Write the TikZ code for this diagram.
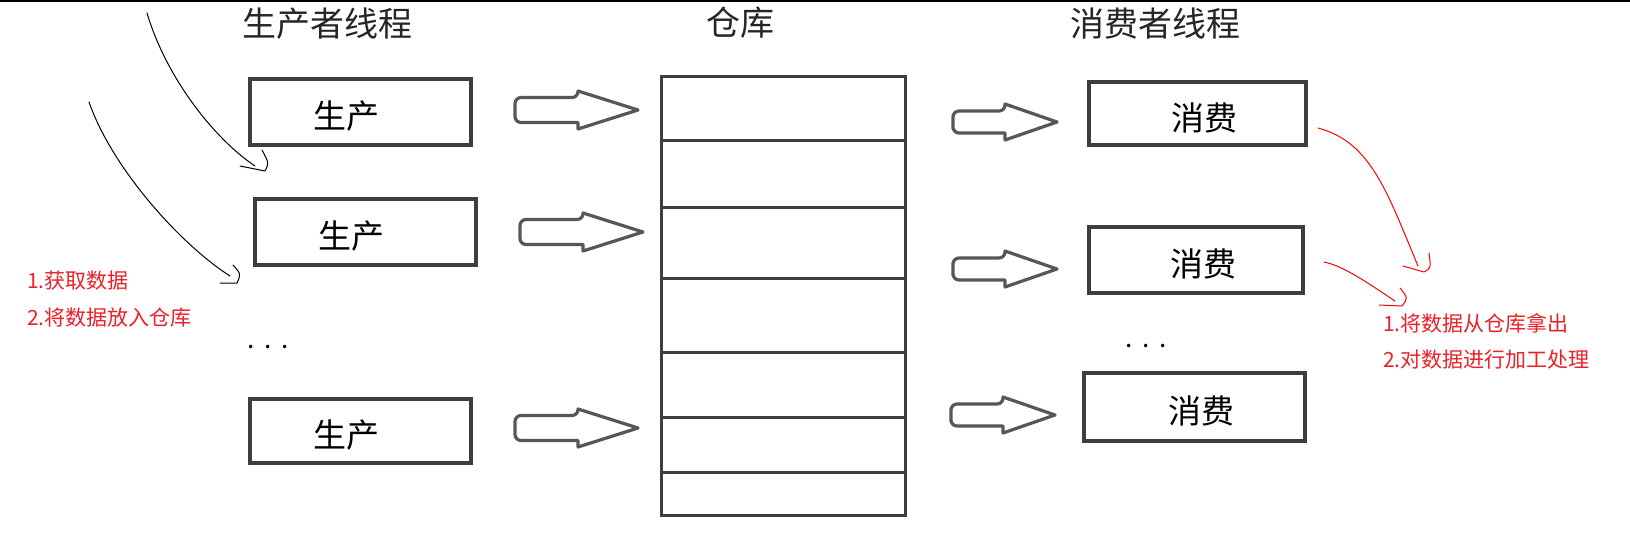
\documentclass[tikz,border=0pt]{standalone}
\usepackage{fontspec}
\setmainfont{Noto Sans CJK SC}
\definecolor{annred}{RGB}{236,32,40}
\definecolor{penred}{RGB}{255,0,0}
\definecolor{boxgray}{RGB}{62,62,62}
\newcommand{\ptext}[1]{\hspace*{-28pt}#1}
\newcommand{\ctext}[1]{#1\hspace*{-14pt}}
\begin{document}
\begin{tikzpicture}[x=1pt,y=-1pt,
  pbox/.style={draw=boxgray,line width=3.5pt,fill=white,inner sep=0pt,
    font=\fontsize{33pt}{38pt}\selectfont,text height=37pt,text depth=4pt},
  whbox/.style={draw=boxgray,line width=3pt,fill=white,inner sep=0pt,
    minimum width=244pt,minimum height=439pt},
  divline/.style={draw=boxgray,line width=3pt},
  title/.style={font=\fontsize{34pt}{40pt}\selectfont,text=black!85,inner sep=0pt,
    text height=0.88em,text depth=0.12em},
  note/.style={font=\fontsize{21pt}{25pt}\selectfont,text=annred,inner sep=0pt,anchor=west,
    text height=0.88em,text depth=0.12em},
  dots/.style={font=\fontsize{26pt}{30pt}\selectfont,inner sep=0pt,anchor=base},
  arrline/.style={draw=black!66,line width=3.2pt,fill=white,line join=round},
  pen/.style={draw=black,line width=1pt,line cap=round,line join=round},
  redpen/.style={draw=penred,line width=1pt,line cap=round,line join=round},
  parr/.pic={\path[arrline] (0,0) [rounded corners=6pt] |- (63,-12.5) [sharp corners] -- (63,-19) -- (123,0) -- (63,19) -- (63,12.5) [rounded corners=6pt] -| (0,0.5) -- cycle;},
  carr/.pic={\path[arrline] (0,0) [rounded corners=6pt] |- (52,-11) [sharp corners] -- (52,-18) -- (104,0) -- (52,18) -- (52,11) [rounded corners=6pt] -| (0,0.5) -- cycle;}
]
\useasboundingbox (0,0) rectangle (1630,550);
\fill[white] (0,0) rectangle (1630,550);
\fill[black] (0,0) rectangle (1630,1.5);

% titles
\node[title] (tp) at (327,33) {生产者线程};
\node[title] (tw) at (740,32) {仓库};
\node[title] (tc) at (1155,33) {消费者线程};

% producer boxes
\node[pbox,minimum width=221pt,minimum height=66pt] (p1) at (360.5,112) {\ptext{生产}};
\node[pbox,minimum width=221pt,minimum height=66pt] (p2) at (365.5,232) {\ptext{生产}};
\node[pbox,minimum width=221pt,minimum height=64pt] (p3) at (360.5,431) {\ptext{生产}};
\node[dots] (pd) at (268,348.5) {.\hspace{10pt}.\hspace{10pt}.};

% consumer boxes
\node[pbox,minimum width=217pt,minimum height=63pt] (c1) at (1197.5,113.5) {\ctext{消费}};
\node[pbox,minimum width=214pt,minimum height=66pt] (c2) at (1196,260) {\ctext{消费}};
\node[pbox,minimum width=221pt,minimum height=68pt] (c3) at (1194.5,407) {\ctext{消费}};
\node[dots] (cd) at (1146,347.5) {.\hspace{10pt}.\hspace{10pt}.};

% warehouse
\node[whbox] (wh) at (783.5,296) {};
\foreach \yy in {140,207,278,352,417,472}
  \draw[divline] (wh.west |- 0,\yy) -- (wh.east |- 0,\yy);

% block arrows
\pic (pa1) at (515,110) {parr};
\pic (pa2) at (520,232) {parr};
\pic (pa3) at (515,428) {parr};
\pic (ca1) at (953,122) {carr};
\pic (ca2) at (953,269) {carr};
\pic (ca3) at (951,415) {carr};

% notes
\node[note] (n1) at (27,285) {1.获取数据};
\node[note] (n2) at (27,322) {2.将数据放入仓库};
\node[note] (n3) at (1383,328) {1.将数据从仓库拿出};
\node[note] (n4) at (1383,364) {2.对数据进行加工处理};

% hand drawn black arrows
\coordinate (h1s) at (147,13);
\coordinate (h1e) at (255,166);
\coordinate (h1l) at (240,166);
\coordinate (h1t) at (265,171);
\coordinate (h1u) at (262,150);
\draw[pen] (h1s) .. controls (167,80) and (216,140) .. (h1e);
\draw[pen] (h1l) -- (h1t) .. controls (269,163) .. (h1u);

\coordinate (h2s) at (89,102);
\coordinate (h2e) at (230,276);
\coordinate (h2l) at (220,283);
\coordinate (h2t) at (237,283);
\coordinate (h2u) at (233,265);
\draw[pen] (h2s) .. controls (112,168) and (180,244) .. (h2e);
\draw[pen] (h2l) -- (h2t) .. controls (241,274) .. (h2u);

% hand drawn red arrows
\coordinate (r1s) at (1318,128);
\coordinate (r1e) at (1418,266);
\coordinate (r1l) at (1403,266);
\coordinate (r1t) at (1424,272);
\coordinate (r1u) at (1429,253);
\draw[redpen] (r1s) .. controls (1371,142) and (1387,192) .. (r1e);
\draw[redpen] (r1l) -- (r1t) .. controls (1431,268) .. (r1u);

\coordinate (r2s) at (1324,262);
\coordinate (r2e) at (1395,301);
\coordinate (r2l) at (1379,305);
\coordinate (r2t) at (1402,306);
\coordinate (r2u) at (1400,288);
\draw[redpen] (r2s) .. controls (1345,266) and (1375,288) .. (r2e);
\draw[redpen] (r2l) -- (r2t) .. controls (1408,298) .. (r2u);
\end{tikzpicture}
\end{document}
